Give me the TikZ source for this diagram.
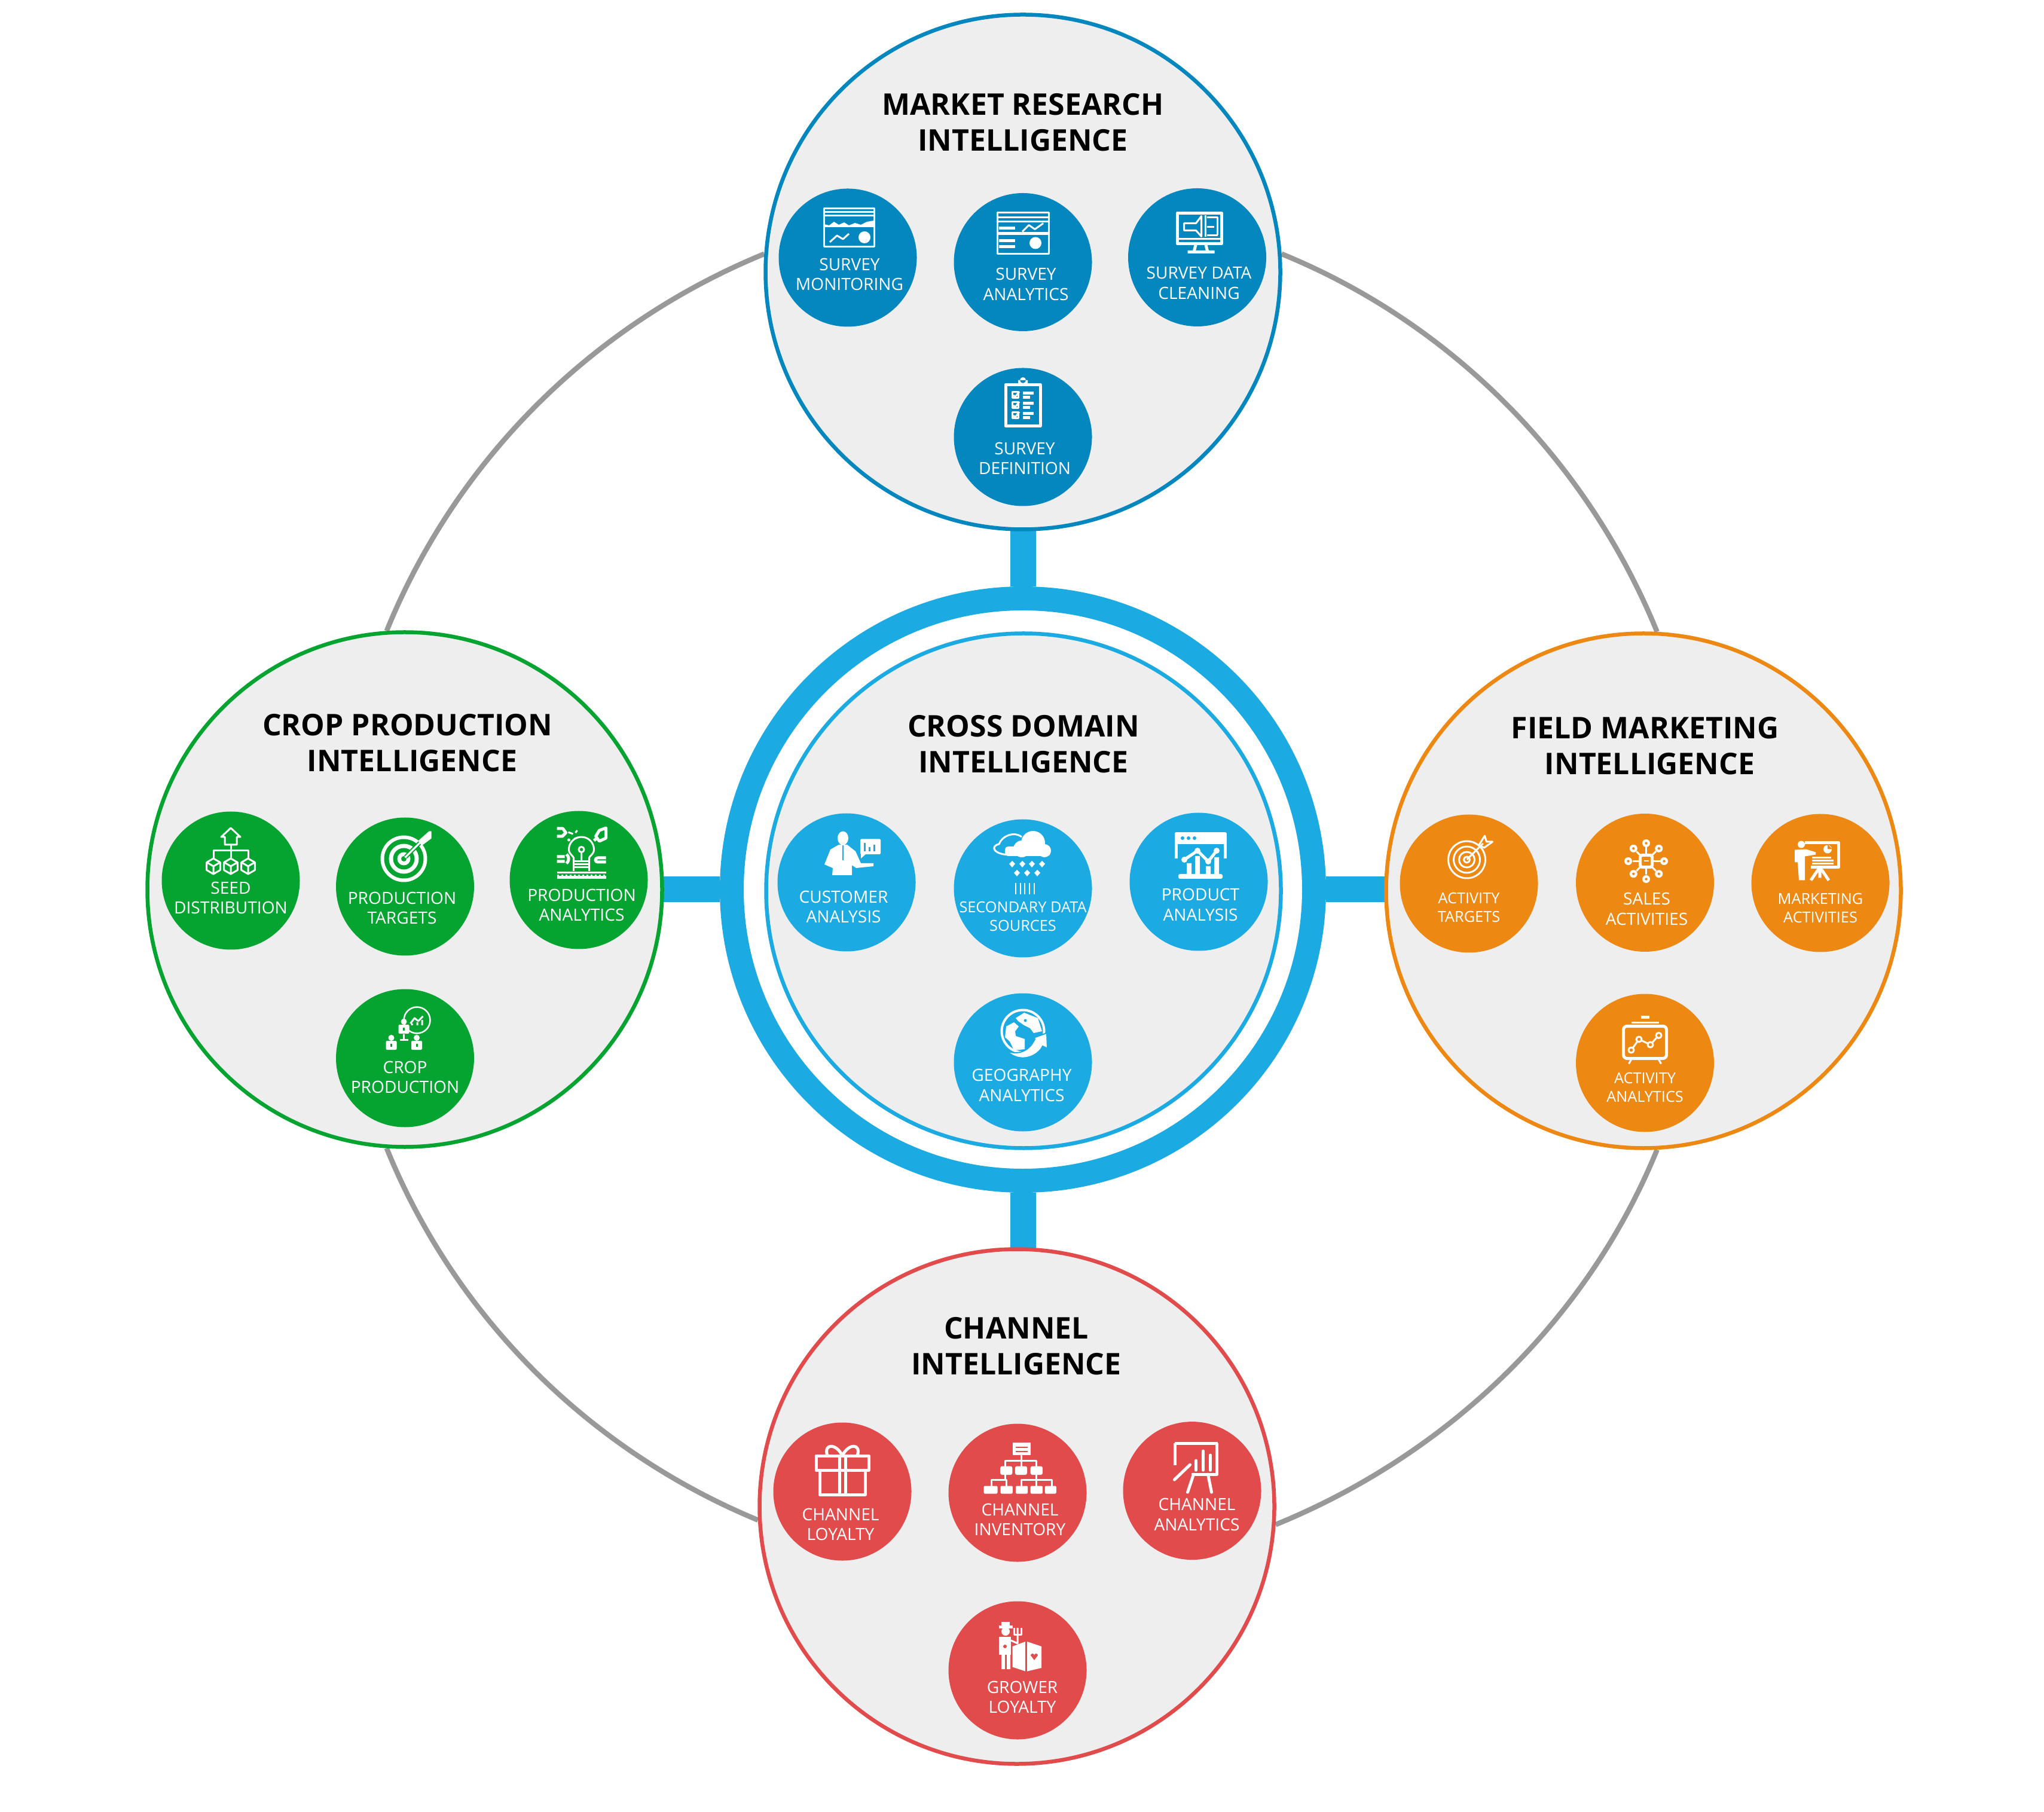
\documentclass[tikz,border=0pt]{standalone}
\usepackage{fontspec}
\setmainfont{Open Sans}
\usepackage{xcolor}
\usepackage{tikz}
\usetikzlibrary{backgrounds}
\definecolor{mktblue}{HTML}{0387BE}
\definecolor{crossblue}{HTML}{1CAAE2}
\definecolor{cropgreen}{HTML}{05A431}
\definecolor{fieldorange}{HTML}{ED8813}
\definecolor{chanred}{HTML}{E24B4B}
\definecolor{panelfill}{HTML}{EEEEEE}
\definecolor{orbitgrey}{HTML}{999999}
\tikzset{
  panel/.style={circle, fill=panelfill, line width=0.065cm, minimum size=8.61cm,
                inner sep=0pt},
  subcircle/.style={circle, minimum size=2.31cm, inner sep=0pt},
  titlelabel/.style={align=center, text=black,
                     font=\fontsize{14.2}{17}\selectfont\bfseries},
  sublabel/.style={align=center, text=white, inner sep=0pt,
                   font=\fontsize{8}{9.6}\selectfont},
  tinylabel/.style={align=center, text=white, inner sep=0pt,
                    font=\fontsize{7.2}{8.6}\selectfont},
  hubring/.style={circle, draw=crossblue, fill=white, line width=0.40cm,
                  minimum size=9.74cm, inner sep=0pt},
  spoke/.style={draw=crossblue, line width=0.43cm},
  orbitarc/.style={draw=orbitgrey, line width=0.085cm, looseness=0.886},
  icoline/.style={draw=white, line width=0.03cm, line join=round},
  icothick/.style={draw=white, line width=0.05cm, line join=round},
  % --- market research icons ---
  monboard/.pic={
    \draw[icoline] (-.42,-.32) rectangle (.42,.32);
    \draw[icoline] (-.42,.26) -- (.42,.26) (-.42,.2) -- (.42,.2);
    \fill[white] (-.42,.01) -- (-.42,.06) -- (-.33,.04) -- (-.25,.1) -- (-.17,.05) -- (-.08,.09)
      -- (0,.04) -- (.1,.08) -- (.2,.05) -- (.3,.1) -- (.42,.12) -- (.42,.01) -- cycle;
    \draw[icoline] (-.32,-.24) -- (-.2,-.13) -- (-.1,-.19) -- (.0,-.1);
    \fill[white] (.26,-.16) circle (.1);
  },
  anaboard/.pic={
    \draw[icoline] (-.43,-.345) rectangle (.43,.345);
    \draw[icoline] (-.43,.27) -- (.43,.27) (-.43,.2) -- (.43,.2);
    \draw[icothick] (-.43,0) -- (.43,0);
    \draw[icothick] (-.4,.09) -- (-.13,.09) (-.4,-.12) -- (-.13,-.12) (-.4,-.22) -- (-.13,-.22);
    \draw[icoline] (-.01,.03) -- (.1,.14) -- (.2,.07) -- (.34,.17);
    \fill[white] (.21,-.16) circle (.1);
  },
  cleanmon/.pic={
    \draw[icothick] (-.37,-.2) rectangle (.37,.31);
    \draw[icoline] (-.37,-.12) -- (.37,-.12);
    \draw[icoline] (-.26,.14) -- (-.06,.14) -- (.03,.26) -- (.03,-.08) -- (-.06,.02) -- (-.26,.02) -- cycle;
    \draw[icoline] (.1,.27) -- (.1,-.09) (.12,.24) -- (.3,.24) (.12,.08) -- (.24,.08)
      (.12,-.06) -- (.3,-.06) (.3,.24) -- (.3,-.06);
    \draw[icothick] (-.06,-.2) -- (-.09,-.32) (.1,-.2) -- (.13,-.32) (-.2,-.34) -- (.25,-.34);
  },
  clipcard/.pic={
    \draw[icothick, fill=mktblue] (-.29,-.345) rectangle (.29,.345);
    \fill[white] (-.08,.34) rectangle (.08,.42) (0,.42) circle (.05);
    \foreach \y in {.17,0,-.17}{
      \draw[icoline] (-.18,\y+.05) rectangle (-.08,\y-.05);
      \draw[icoline] (-.16,\y) -- (-.13,\y-.03) -- (-.06,\y+.06);
      \draw[icothick] (.0,\y+.03) -- (.18,\y+.03);
      \draw[icothick] (.0,\y-.04) -- (.12,\y-.04);
    }
  },
  % --- cross domain icons ---
  salesman/.pic={
    \fill[white] (-.16,.25) ellipse (.09 and .115);
    \fill[white] (-.47,-.19) -- (-.37,.06) -- (-.23,.14) -- (-.09,.14) -- (.05,.03) -- (.14,-.17)
      -- (.35,-.17) -- (.35,-.22) -- (.06,-.25) -- (-.01,-.2) -- (-.01,-.37) -- (-.34,-.37)
      -- (-.33,-.25) -- cycle;
    \draw[draw=crossblue, line width=.025cm] (-.16,.13) -- (-.16,-.12);
    \fill[white, rounded corners=.02cm] (.13,.235) rectangle (.47,-.02);
    \fill[white] (.14,.0) -- (.14,-.09) -- (.24,.0) -- cycle;
    \draw[draw=crossblue, line width=.03cm] (.2,.03) -- (.2,.17) (.28,.03) -- (.28,.1) (.36,.03) -- (.36,.14);
  },
  raincloud/.pic={
    \draw[icoline] (-.2,.1) .. controls (-.5,.1) and (-.55,.25) .. (-.4,.28)
      .. controls (-.35,.42) and (-.15,.5) .. (-.02,.4);
    \fill[white] (.17,.3) circle (.2) (.36,.17) circle (.11) (-.02,.2) circle (.14);
    \fill[white, rounded corners=.05cm] (-.3,.08) rectangle (.46,.24);
    \foreach \x in {-.18,-.01,.15,.32}{
      \fill[white] (\x,0) -- ++(.05,-.05) -- ++(-.05,-.06) -- ++(-.05,.06) -- cycle;
    }
    \foreach \x in {-.1,.07,.24}{
      \fill[white] (\x,-.15) -- ++(.05,-.05) -- ++(-.05,-.06) -- ++(-.05,.06) -- cycle;
    }
    \foreach \x in {-.12,-.04,.03,.11,.19}{
      \draw[draw=white, line width=.02cm] (\x,-.37) -- (\x,-.56);
    }
  },
  webchart/.pic={
    \draw[icothick] (-.41,-.04) -- (-.41,.37) -- (.41,.37) -- (.41,-.04);
    \fill[white] (-.43,.2) rectangle (.43,.39);
    \fill[crossblue] (-.3,.3) circle (.03) (-.2,.3) circle (.03) (-.1,.3) circle (.03);
    \draw[icothick] (-.27,-.06) -- (-.05,.09) -- (.13,-.09) -- (.27,.09);
    \fill[white] (-.27,-.06) circle (.05) (-.05,.09) circle (.05) (.13,-.09) circle (.05) (.27,.09) circle (.05);
    \fill[white] (-.23,-.33) rectangle (-.15,-.12) (-.09,-.33) rectangle (-.01,-.0)
      (.09,-.33) rectangle (.17,-.17) (.23,-.33) rectangle (.31,-.02);
    \fill[white, rounded corners=.03cm] (-.37,-.38) rectangle (.37,-.3);
  },
  globearrow/.pic={
    \draw[draw=white, line width=.04cm] (0,0) circle (.355);
    \fill[white] (-.28,.08) -- (-.15,.15) -- (-.07,.08) -- (-.13,0) -- (-.12,-.08) -- (.03,-.13)
      -- (.03,-.3) -- (-.15,-.32) -- (-.22,-.17) -- (-.3,-.1) -- cycle;
    \fill[white] (-.12,.22) -- (.02,.31) -- (.25,.22) -- (.32,0) -- (.18,-.03) -- (.12,.05)
      -- (.02,.1) -- (-.08,.17) -- cycle;
    \fill[crossblue] (.04,.18) circle (.025);
    \filldraw[fill=white, draw=crossblue, line width=.02cm] (-.27,-.33) .. controls (-.1,-.4) and (.1,-.35) .. (.2,-.13)
      -- (.15,-.12) -- (.4,-.03) -- (.41,-.29) -- (.33,-.25)
      .. controls (.25,-.42) and (-.05,-.55) .. (-.27,-.33) -- cycle;
  },
  % --- crop production icons ---
  seedtree/.pic={
    \draw[icoline] (0,.38) -- (.16,.23) -- (.1,.23) -- (.1,.1) -- (-.1,.1) -- (-.1,.23) -- (-.16,.23) -- cycle;
    \draw[icoline] (0,.1) -- (0,-.12) (-.29,-.12) -- (-.29,0) -- (.29,0) -- (.29,-.12);
    \foreach \x in {-.29,0,.29}{
      \draw[icoline, shift={(\x,-.26)}] (90:.13) -- (150:.13) -- (210:.13) -- (270:.13) -- (330:.13) -- (30:.13) -- cycle
        (0,0) -- (150:.13) (0,0) -- (30:.13) (0,0) -- (270:.13);
    }
  },
  dartboard/.pic={
    \fill[white] (0,0) circle (.39);
    \fill[cropgreen] (0,0) circle (.33);
    \fill[white] (0,0) circle (.25);
    \fill[cropgreen] (0,0) circle (.18);
    \fill[white] (0,0) circle (.11);
    \fill[cropgreen] (0,0) circle (.045);
    \draw[draw=cropgreen, line width=.07cm] (.03,.03) -- (.3,.3);
    \draw[draw=white, line width=.03cm] (.02,.02) -- (.3,.3);
    \fill[white] (.24,.3) -- (.42,.46) -- (.46,.46) -- (.46,.34) -- (.3,.22) -- cycle;
  },
  bulbgadget/.pic={
    \draw[icoline] (-.13,-.12) -- (-.13,-.06) .. controls (-.13,-.03) and (-.21,.0) .. (-.21,.08)
      arc[start angle=180, end angle=0, radius=.21] .. controls (.21,.0) and (.13,-.03) .. (.13,-.06) -- (.13,-.28);
    \draw[icoline] (-.13,-.12) -- (-.13,-.28);
    \draw[icoline] (0,.08) circle (.045) (0,.035) -- (0,-.12);
    \draw[icoline] (-.13,-.12) -- (.13,-.12) (-.13,-.17) -- (.13,-.17) (-.13,-.22) -- (.13,-.22);
    \draw[icothick] (-.41,-.39) -- (.41,-.39);
    \draw[draw=white, line width=.03cm] (-.41,-.31) -- (.41,-.31);
    \draw[draw=white, line width=.025cm, dash pattern=on .03cm off .04cm] (-.41,-.35) -- (.41,-.35);
    \draw[icothick] (-.41,.43) -- (-.31,.43) -- (-.26,.36) -- (-.32,.3) -- (-.41,.3);
    \draw[icoline] (-.22,.37) -- (-.14,.34) (-.1,.36) -- (-.07,.4) (-.12,.26) -- (-.06,.28);
    \fill[white] (-.21,.24) circle (.025);
    \draw[icothick, fill=cropgreen] (.41,.44) -- (.3,.4) -- (.24,.3) -- (.3,.22) -- (.41,.27) -- cycle;
    \draw[icothick] (.21,.23) -- (.26,.27);
    \draw[icothick] (-.25,-.0) arc[start angle=50, end angle=-50, radius=.1] (-.41,-.04) -- (-.28,-.04) (-.41,-.12) -- (-.28,-.12);
    \draw[icothick] (.41,-.06) -- (.27,-.06) arc[start angle=90, end angle=270, radius=.035] -- (.41,-.13);
  },
  yieldteam/.pic={
    \draw[draw=white, line width=.025cm] (.2,.155) circle (.22);
    \draw[icoline] (.09,.1) -- (.16,.19) -- (.22,.14) -- (.3,.22);
    \fill[white] (.1,.07) rectangle (.13,.1) (.19,.07) rectangle (.22,.12) (.27,.07) rectangle (.3,.16);
    \foreach \px/\py in {-.02/.03,-.23/-.24,.195/-.24}{
      \fill[white] (\px,\py+.1) circle (.05);
      \fill[white, rounded corners=.02cm] (\px-.09,\py-.1) rectangle (\px+.09,\py+.05);
      \fill[cropgreen] (\px-.015,\py-.05) rectangle (\px+.015,\py);
    }
    \draw[icoline] (-.02,-.08) -- (-.02,-.17) (-.09,-.17) -- (.05,-.17);
  },
  % --- field marketing icons ---
  thintarget/.pic={
    \draw[icoline] (0,0) circle (.31) (0,0) circle (.22) (0,0) circle (.13) (0,0) circle (.05);
    \draw[icoline] (0,0) -- (.27,.27);
    \draw[icoline] (.2,.24) -- (.3,.4) -- (.33,.3) -- (.43,.3) -- (.29,.2) -- cycle;
  },
  hubspokes/.pic={
    \draw[icothick, rounded corners=.03cm] (-.1,-.1) rectangle (.1,.1);
    \draw[draw=white, line width=.02cm] (-.04,0) -- (.04,0);
    \foreach \a in {0,45,...,315}{
      \draw[icoline] (\a:.1) -- (\a:.23);
      \fill[white] (\a:.3) circle (.065);
      \fill[fieldorange] (\a:.3) circle (.022);
    }
  },
  trainer/.pic={
    \fill[white] (-.26,.28) circle (.06);
    \fill[white] (-.37,.19) -- (-.18,.2) -- (-.02,.15) -- (-.02,.11) -- (-.2,.08) -- (-.2,-.32)
      -- (-.3,-.32) -- (-.32,-.02) -- (-.37,-.02) -- cycle;
    \draw[icothick] (-.2,.31) -- (.36,.31) -- (.36,-.1) -- (-.1,-.1);
    \draw[icoline] (-.08,.06) -- (.24,.06) (-.08,.01) -- (.28,.01) (-.08,-.04) -- (.28,-.04);
    \fill[white] (.18,.2) circle (.07);
    \fill[fieldorange] (.18,.2) -- (.26,.2) -- (.18,.28) -- cycle;
    \draw[icothick] (.05,-.1) -- (-.1,-.32) (.05,-.1) -- (.2,-.32) (.05,-.1) -- (.05,-.28);
  },
  screenchart/.pic={
    \draw[icothick, rounded corners=.06cm] (-.36,-.27) rectangle (.36,.27);
    \draw[icoline] (-.23,.33) -- (.23,.33);
    \draw[icothick] (-.07,.42) -- (.07,.42);
    \draw[icoline] (-.22,-.27) -- (-.27,-.36) (.22,-.27) -- (.27,-.36);
    \draw[icoline] (-.23,-.13) -- (-.1,.05) -- (.09,-.04) -- (.23,.115);
    \foreach \px/\py in {-.23/-.13,-.1/.05,.09/-.04,.23/.115}{
      \draw[icoline, fill=fieldorange] (\px,\py) circle (.045);
    }
  },
  % --- channel icons ---
  giftbox/.pic={
    \draw[icothick] (-.44,0) rectangle (.44,.24);
    \draw[icothick] (-.38,0) -- (-.38,-.41) -- (.38,-.41) -- (.38,0);
    \draw[icothick] (-.05,.24) -- (-.05,-.41) (.05,.24) -- (.05,-.41);
    \draw[icothick] (0,.24) .. controls (-.1,.45) and (-.32,.45) .. (-.25,.24);
    \draw[icothick] (0,.24) .. controls (.1,.45) and (.32,.45) .. (.25,.24);
  },
  orgchart/.pic={
    \fill[white] (-.13,.43) rectangle (.17,.215);
    \draw[draw=chanred, line width=.02cm] (-.08,.35) -- (.12,.35) (-.08,.28) -- (.12,.28);
    \draw[icoline] (.02,.215) -- (.02,-.0) (-.25,.03) -- (-.25,.125) -- (.27,.125) -- (.27,.03);
    \fill[white, rounded corners=.03cm] (-.333,.03) rectangle (-.132,-.115)
      (-.086,.03) rectangle (.115,-.115) (.172,.03) rectangle (.374,-.115);
    \draw[icoline] (-.25,-.115) -- (-.25,-.2) (.27,-.115) -- (.27,-.3)
      (-.48,-.3) -- (-.48,-.2) -- (-.23,-.2) -- (-.23,-.3) (.02,-.3) -- (.02,-.2) -- (.53,-.2) -- (.53,-.3);
    \fill[white, rounded corners=.02cm] (-.61,-.3) rectangle (-.38,-.43)
      (-.33,-.3) rectangle (-.126,-.43) (-.075,-.3) rectangle (.126,-.43)
      (.172,-.3) rectangle (.374,-.43) (.414,-.3) rectangle (.603,-.43);
  },
  easelbars/.pic={
    \draw[draw=white, line width=.05cm] (-.36,.42) -- (.36,.42);
    \draw[icothick] (-.35,.42) -- (-.35,.05) (.35,.42) -- (.35,-.1) -- (-.08,-.1);
    \draw[draw=white, line width=.05cm, line cap=round] (0,-.03) -- (0,.13) (.12,-.03) -- (.12,.29) (.24,-.03) -- (.24,.22);
    \draw[draw=white, line width=.05cm, line cap=round] (-.36,-.19) -- (-.1,.06);
    \draw[draw=white, line width=.05cm, line cap=round] (-.04,-.1) -- (-.14,-.4) (.2,-.1) -- (.26,-.4);
  },
  growerbox/.pic={
    \fill[white] (-.23,.25) circle (.07);
    \draw[icothick] (-.345,.33) -- (-.115,.33);
    \fill[white] (-.3,.33) rectangle (-.16,.41);
    \fill[white] (-.34,.16) rectangle (-.14,-.14);
    \fill[white] (-.3,-.14) rectangle (-.24,-.38) (-.21,-.14) rectangle (-.15,-.38);
    \fill[chanred] (-.24,-.0) circle (.03);
    \draw[icoline] (-.14,.1) -- (-.03,.05) -- (-.03,.31);
    \draw[icoline] (-.09,.31) -- (-.09,.2) -- (.03,.2) -- (.03,.31);
    \fill[white] (-.115,0) -- (.115,.086) -- (.37,0) -- (.37,-.36) -- (.115,-.42) -- (-.115,-.345) -- cycle;
    \draw[draw=chanred, line width=.025cm] (.115,.086) -- (.115,-.42);
    \fill[chanred] (.25,-.23) -- (.19,-.15) arc[start angle=180, end angle=0, radius=.03]
      arc[start angle=180, end angle=0, radius=.03] -- cycle;
  }
}
\begin{document}
\begin{tikzpicture}
  \useasboundingbox (0,0) rectangle (34.19,30.30);

  % --- centre: ring + cross domain ---
  \node[hubring] (ring) at (17.11, 15.42) {};
  \node[panel, draw=crossblue] (cross) at (17.12, 15.40) {};
  \node[titlelabel] (cross-t) at (17.12, 17.85) {CROSS DOMAIN\\INTELLIGENCE};

  \node[subcircle, fill=crossblue] (s-cust) at (14.16, 15.54) {};
  \pic at ([shift={(.10,.49)}]s-cust) {salesman};
  \node[sublabel] (s-cust-t) at (14.11, 15.13) {CUSTOMER\\ANALYSIS};

  \node[subcircle, fill=crossblue] (s-sec) at (17.11, 15.44) {};
  \pic at ([shift={(0,.46)}]s-sec) {raincloud};
  \node[tinylabel] (s-sec-t) at (17.11, 14.97) {SECONDARY DATA\\SOURCES};

  \node[subcircle, fill=crossblue] (s-prod) at (20.05, 15.55) {};
  \pic at ([shift={(.03,.43)}]s-prod) {webchart};
  \node[sublabel] (s-prod-t) at (20.08, 15.165) {PRODUCT\\ANALYSIS};

  \node[subcircle, fill=crossblue] (s-geo) at (17.11, 12.53) {};
  \pic at ([shift={(0,.52)}]s-geo) {globearrow};
  \node[sublabel] (s-geo-t) at (17.09, 12.145) {GEOGRAPHY\\ANALYTICS};

  % --- market research ---
  \node[panel, draw=mktblue] (market) at (17.11, 25.75) {};
  \node[titlelabel] (market-t) at (17.11, 28.25) {MARKET RESEARCH\\INTELLIGENCE};

  \node[subcircle, fill=mktblue] (s-mon) at (14.18, 25.99) {};
  \pic at ([shift={(.02,.50)}]s-mon) {monboard};
  \node[sublabel] (s-mon-t) at (14.21, 25.71) {SURVEY\\MONITORING};

  \node[subcircle, fill=mktblue] (s-ana) at (17.11, 25.915) {};
  \pic at ([shift={(0,.48)}]s-ana) {anaboard};
  \node[sublabel] (s-ana-t) at (17.16, 25.545) {SURVEY\\ANALYTICS};

  \node[subcircle, fill=mktblue] (s-cln) at (20.025, 25.995) {};
  \pic at ([shift={(.04,.43)}]s-cln) {cleanmon};
  \node[sublabel] (s-cln-t) at (20.055, 25.565) {SURVEY DATA\\CLEANING};

  \node[subcircle, fill=mktblue] (s-def) at (17.11, 22.99) {};
  \pic at ([shift={(0,.53)}]s-def) {clipcard};
  \node[sublabel] (s-def-t) at (17.14, 22.63) {SURVEY\\DEFINITION};

  % --- crop production ---
  \node[panel, draw=cropgreen] (crop) at (6.77, 15.42) {};
  \node[titlelabel] (crop-t) at (6.815, 17.87) {CROP PRODUCTION\\\hspace*{.16cm}INTELLIGENCE};

  \node[subcircle, fill=cropgreen] (s-seed) at (3.86, 15.57) {};
  \pic at ([shift={(0,.50)}]s-seed) {seedtree};
  \node[sublabel] (s-seed-t) at (3.86, 15.28) {SEED\\DISTRIBUTION};

  \node[subcircle, fill=cropgreen] (s-ptg) at (6.775, 15.47) {};
  \pic at ([shift={(-.02,.465)}]s-ptg) {dartboard};
  \node[sublabel] (s-ptg-t) at (6.725, 15.11) {PRODUCTION\\TARGETS};

  \node[subcircle, fill=cropgreen] (s-pan) at (9.68, 15.58) {};
  \pic at ([shift={(.045,.43)}]s-pan) {bulbgadget};
  \node[sublabel] (s-pan-t) at (9.73, 15.16) {PRODUCTION\\ANALYTICS};

  \node[subcircle, fill=cropgreen] (s-cpr) at (6.775, 12.60) {};
  \pic at ([shift={(0,.48)}]s-cpr) {yieldteam};
  \node[sublabel] (s-cpr-t) at (6.775, 12.28) {CROP\\PRODUCTION};

  % --- field marketing ---
  \node[panel, draw=fieldorange] (field) at (27.49, 15.40) {};
  \node[titlelabel] (field-t) at (27.515, 17.82) {FIELD MARKETING\\\hspace*{.16cm}INTELLIGENCE};

  \node[subcircle, fill=fieldorange] (s-atg) at (24.57, 15.52) {};
  \pic at ([shift={(-.035,.40)}]s-atg) {thintarget};
  \node[tinylabel] (s-atg-t) at (24.57, 15.12) {ACTIVITY\\TARGETS};

  \node[subcircle, fill=fieldorange] (s-sal) at (27.515, 15.535) {};
  \pic at ([shift={(.02,.36)}]s-sal) {hubspokes};
  \node[sublabel] (s-sal-t) at (27.545, 15.095) {SALES\\ACTIVITIES};

  \node[subcircle, fill=fieldorange] (s-mkt) at (30.45, 15.53) {};
  \pic at ([shift={(-.06,.365)}]s-mkt) {trainer};
  \node[tinylabel] (s-mkt-t) at (30.45, 15.11) {MARKETING\\ACTIVITIES};

  \node[subcircle, fill=fieldorange] (s-aan) at (27.515, 12.52) {};
  \pic at ([shift={(0,.345)}]s-aan) {screenchart};
  \node[tinylabel] (s-aan-t) at (27.515, 12.11) {ACTIVITY\\ANALYTICS};

  % --- channel ---
  \node[panel, draw=chanred] (channel) at (17.01, 5.10) {};
  \node[titlelabel] (channel-t) at (17.00, 7.78) {CHANNEL\\INTELLIGENCE};

  \node[subcircle, fill=chanred] (s-clo) at (14.09, 5.35) {};
  \pic at ([shift={(0,.36)}]s-clo) {giftbox};
  \node[sublabel] (s-clo-t) at (14.06, 4.80) {CHANNEL\\LOYALTY};

  \node[subcircle, fill=chanred] (s-inv) at (17.02, 5.33) {};
  \pic at ([shift={(.045,.415)}]s-inv) {orgchart};
  \node[sublabel] (s-inv-t) at (17.06, 4.88) {CHANNEL\\INVENTORY};

  \node[subcircle, fill=chanred] (s-can) at (19.94, 5.364) {};
  \pic at ([shift={(.065,.375)}]s-can) {easelbars};
  \node[sublabel] (s-can-t) at (20.02, 4.964) {CHANNEL\\ANALYTICS};

  \node[subcircle, fill=chanred] (s-gro) at (17.02, 2.36) {};
  \pic at ([shift={(.03,.40)}]s-gro) {growerbox};
  \node[sublabel] (s-gro-t) at (17.10, 1.91) {GROWER\\LOYALTY};

  % --- grey orbit and blue spokes go behind ---
  \begin{pgfonlayer}{background}
    \draw[orbitarc] (market.4) to[out=-22.2, in=112.2] (field.87);
    \draw[orbitarc] (field.-87) to[out=-112.2, in=22.2] (channel.-4);
    \draw[orbitarc] (channel.183) to[out=157.5, in=-67.9] (crop.266);
    \draw[orbitarc] (crop.94) to[out=67.9, in=202.3] (market.176);
    \draw[spoke] (ring) -- (ring |- market);
    \draw[spoke] (ring) -- (ring |- channel);
    \draw[spoke] (ring) -- (ring -| crop);
    \draw[spoke] (ring) -- (ring -| field);
  \end{pgfonlayer}

\end{tikzpicture}
\end{document}
